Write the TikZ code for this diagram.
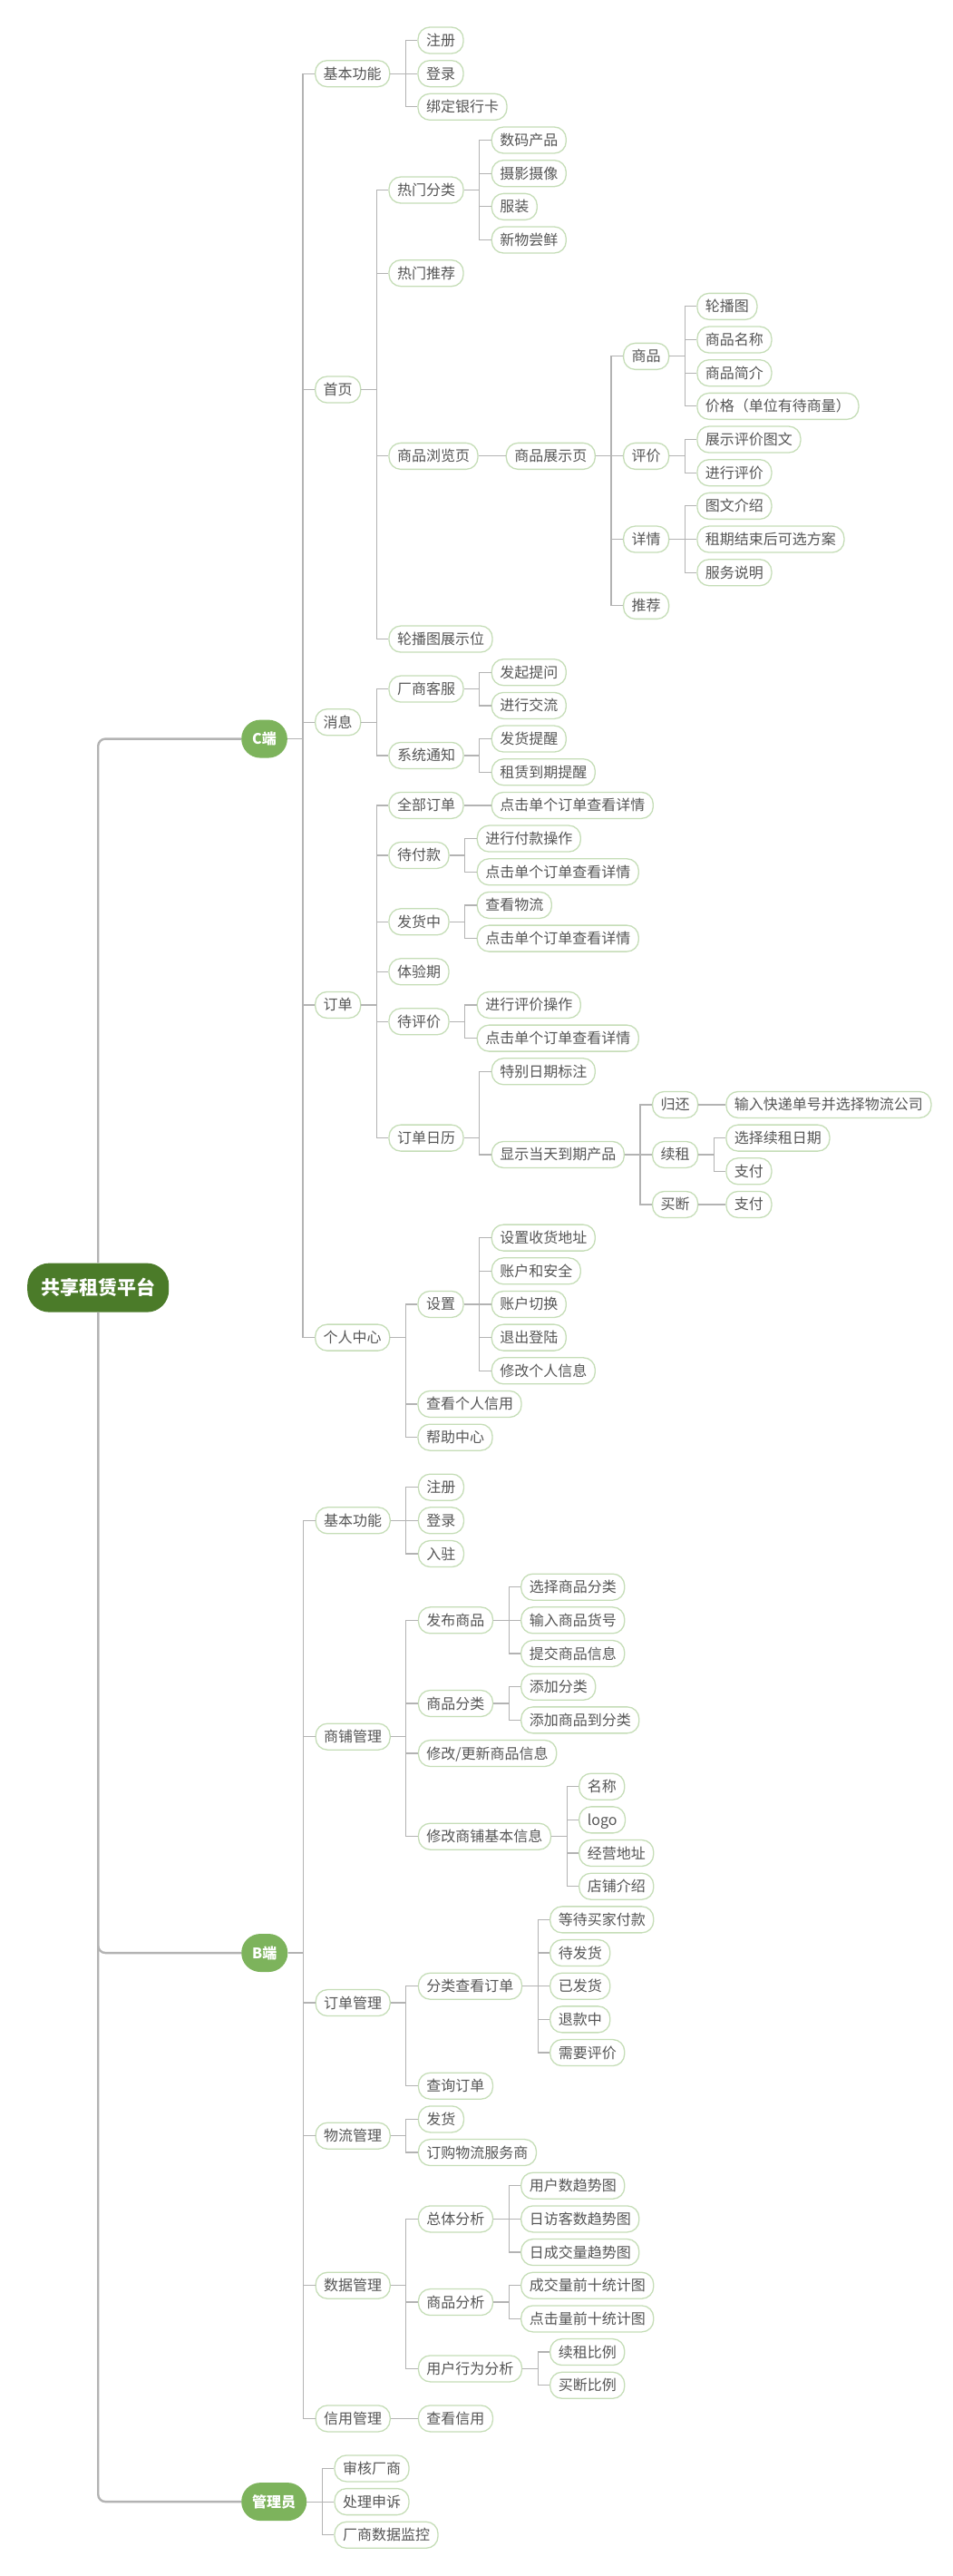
\documentclass[tikz,border=0pt]{standalone}
\usepackage{fontspec}
\newfontfamily\cjk{Noto Sans CJK SC}
\definecolor{leafline}{HTML}{C5DDB7}
\definecolor{leaftext}{HTML}{555555}
\definecolor{linkgray}{HTML}{B3B3B3}
\definecolor{hubgreen}{HTML}{7DB35C}
\definecolor{rootgreen}{HTML}{4B7B29}

\begin{document}
\begin{tikzpicture}[x=1pt, y=-36.67pt,
    leaf/.style = {draw=leafline, line width=1.3pt, fill=white, text=leaftext, rounded corners=13pt,
      minimum height=29pt, inner xsep=9pt, inner ysep=0pt, text height=14pt, text depth=2pt,
      anchor=west, font=\cjk\fontsize{16pt}{18pt}\selectfont},
    hub/.style = {fill=hubgreen, text=white, rounded corners=21pt, minimum height=42pt,
      inner xsep=12pt, text height=14pt, text depth=2pt, anchor=west,
      font=\cjk\bfseries\fontsize{16pt}{18pt}\selectfont},
    rootbox/.style = {fill=rootgreen, text=white, rounded corners=24pt, minimum height=54pt,
      inner xsep=15pt, text height=18pt, text depth=3pt, anchor=west,
      font=\cjk\bfseries\fontsize{21pt}{24pt}\selectfont},
    link/.style = {draw=linkgray, line width=1.2pt},
    fork/.style = {to path={-- ++(17pt,0) |- (\tikztotarget)}},
    trunk/.style = {draw=linkgray, line width=2.4pt, rounded corners=8pt}]
\useasboundingbox (0,-1.2136) rectangle (1050,76.234);

\node[rootbox] (root) at (30,37.5) {共享租赁平台};

% C端
\node[hub] (cend) at (266,21) {C端};
\node[leaf] (cjb) at ([xshift=30pt]cend.east |- 0,1) {基本功能};
\node[leaf] (cjbzc) at ([xshift=30pt]cjb.east |- 0,0) {注册};
\node[leaf] (cjbdl) at ([xshift=30pt]cjb.east |- 0,1) {登录};
\node[leaf] (cjbbk) at ([xshift=30pt]cjb.east |- 0,2) {绑定银行卡};
\node[leaf] (csy) at ([xshift=30pt]cend.east |- 0,10.5) {首页};
\node[leaf] (rmfl) at ([xshift=30pt]csy.east |- 0,4.5) {热门分类};
\node[leaf] (smcp) at ([xshift=30pt]rmfl.east |- 0,3) {数码产品};
\node[leaf] (sysx) at ([xshift=30pt]rmfl.east |- 0,4) {摄影摄像};
\node[leaf] (fz) at ([xshift=30pt]rmfl.east |- 0,5) {服装};
\node[leaf] (xwcx) at ([xshift=30pt]rmfl.east |- 0,6) {新物尝鲜};
\node[leaf] (rmtj) at ([xshift=30pt]csy.east |- 0,7) {热门推荐};
\node[leaf] (splly) at ([xshift=30pt]csy.east |- 0,12.5) {商品浏览页};
\node[leaf] (spzsy) at ([xshift=30pt]splly.east |- 0,12.5) {商品展示页};
\node[leaf] (zssp) at ([xshift=30pt]spzsy.east |- 0,9.5) {商品};
\node[leaf] (lbt) at ([xshift=30pt]zssp.east |- 0,8) {轮播图};
\node[leaf] (spmc) at ([xshift=30pt]zssp.east |- 0,9) {商品名称};
\node[leaf] (spjj) at ([xshift=30pt]zssp.east |- 0,10) {商品简介};
\node[leaf] (jg) at ([xshift=30pt]zssp.east |- 0,11) {价格（单位有待商量）};
\node[leaf] (zspj) at ([xshift=30pt]spzsy.east |- 0,12.5) {评价};
\node[leaf] (pjtw) at ([xshift=30pt]zspj.east |- 0,12) {展示评价图文};
\node[leaf] (jxpj) at ([xshift=30pt]zspj.east |- 0,13) {进行评价};
\node[leaf] (zsxq) at ([xshift=30pt]spzsy.east |- 0,15) {详情};
\node[leaf] (twjs) at ([xshift=30pt]zsxq.east |- 0,14) {图文介绍};
\node[leaf] (zqfa) at ([xshift=30pt]zsxq.east |- 0,15) {租期结束后可选方案};
\node[leaf] (fwsm) at ([xshift=30pt]zsxq.east |- 0,16) {服务说明};
\node[leaf] (zstj) at ([xshift=30pt]spzsy.east |- 0,17) {推荐};
\node[leaf] (lbtzs) at ([xshift=30pt]csy.east |- 0,18) {轮播图展示位};
\node[leaf] (cxx) at ([xshift=30pt]cend.east |- 0,20.5) {消息};
\node[leaf] (cskf) at ([xshift=30pt]cxx.east |- 0,19.5) {厂商客服};
\node[leaf] (fqtw) at ([xshift=30pt]cskf.east |- 0,19) {发起提问};
\node[leaf] (jxjl) at ([xshift=30pt]cskf.east |- 0,20) {进行交流};
\node[leaf] (xttz) at ([xshift=30pt]cxx.east |- 0,21.5) {系统通知};
\node[leaf] (fhtx) at ([xshift=30pt]xttz.east |- 0,21) {发货提醒};
\node[leaf] (dqtx) at ([xshift=30pt]xttz.east |- 0,22) {租赁到期提醒};
\node[leaf] (cdd) at ([xshift=30pt]cend.east |- 0,29) {订单};
\node[leaf] (qbdd) at ([xshift=30pt]cdd.east |- 0,23) {全部订单};
\node[leaf] (qbxq) at ([xshift=30pt]qbdd.east |- 0,23) {点击单个订单查看详情};
\node[leaf] (dfk) at ([xshift=30pt]cdd.east |- 0,24.5) {待付款};
\node[leaf] (fkcz) at ([xshift=30pt]dfk.east |- 0,24) {进行付款操作};
\node[leaf] (dfkxq) at ([xshift=30pt]dfk.east |- 0,25) {点击单个订单查看详情};
\node[leaf] (fhz) at ([xshift=30pt]cdd.east |- 0,26.5) {发货中};
\node[leaf] (ckwl) at ([xshift=30pt]fhz.east |- 0,26) {查看物流};
\node[leaf] (fhzxq) at ([xshift=30pt]fhz.east |- 0,27) {点击单个订单查看详情};
\node[leaf] (tyq) at ([xshift=30pt]cdd.east |- 0,28) {体验期};
\node[leaf] (dpj) at ([xshift=30pt]cdd.east |- 0,29.5) {待评价};
\node[leaf] (pjcz) at ([xshift=30pt]dpj.east |- 0,29) {进行评价操作};
\node[leaf] (dpjxq) at ([xshift=30pt]dpj.east |- 0,30) {点击单个订单查看详情};
\node[leaf] (ddrl) at ([xshift=30pt]cdd.east |- 0,33) {订单日历};
\node[leaf] (tbrq) at ([xshift=30pt]ddrl.east |- 0,31) {特别日期标注};
\node[leaf] (dqcp) at ([xshift=30pt]ddrl.east |- 0,33.5) {显示当天到期产品};
\node[leaf] (gh) at ([xshift=30pt]dqcp.east |- 0,32) {归还};
\node[leaf] (srkd) at ([xshift=30pt]gh.east |- 0,32) {输入快递单号并选择物流公司};
\node[leaf] (xz) at ([xshift=30pt]dqcp.east |- 0,33.5) {续租};
\node[leaf] (xzrq) at ([xshift=30pt]xz.east |- 0,33) {选择续租日期};
\node[leaf] (xzzf) at ([xshift=30pt]xz.east |- 0,34) {支付};
\node[leaf] (md) at ([xshift=30pt]dqcp.east |- 0,35) {买断};
\node[leaf] (mdzf) at ([xshift=30pt]md.east |- 0,35) {支付};
\node[leaf] (cgr) at ([xshift=30pt]cend.east |- 0,39) {个人中心};
\node[leaf] (sz) at ([xshift=30pt]cgr.east |- 0,38) {设置};
\node[leaf] (shdz) at ([xshift=30pt]sz.east |- 0,36) {设置收货地址};
\node[leaf] (zhaq) at ([xshift=30pt]sz.east |- 0,37) {账户和安全};
\node[leaf] (zhqh) at ([xshift=30pt]sz.east |- 0,38) {账户切换};
\node[leaf] (tcdl) at ([xshift=30pt]sz.east |- 0,39) {退出登陆};
\node[leaf] (xgxx) at ([xshift=30pt]sz.east |- 0,40) {修改个人信息};
\node[leaf] (ckgrxy) at ([xshift=30pt]cgr.east |- 0,41) {查看个人信用};
\node[leaf] (bzzx) at ([xshift=30pt]cgr.east |- 0,42) {帮助中心};

\draw[link] (cend.east) edge[fork] (cjb.west) edge[fork] (csy.west) edge[fork] (cxx.west)
  edge[fork] (cdd.west) edge[fork] (cgr.west);
\draw[link] (cjb.east) edge[fork] (cjbzc.west) edge[fork] (cjbdl.west) edge[fork] (cjbbk.west);
\draw[link] (csy.east) edge[fork] (rmfl.west) edge[fork] (rmtj.west) edge[fork] (splly.west) edge[fork] (lbtzs.west);
\draw[link] (rmfl.east) edge[fork] (smcp.west) edge[fork] (sysx.west) edge[fork] (fz.west) edge[fork] (xwcx.west);
\draw[link] (splly.east) edge[fork] (spzsy.west);
\draw[link] (spzsy.east) edge[fork] (zssp.west) edge[fork] (zspj.west) edge[fork] (zsxq.west) edge[fork] (zstj.west);
\draw[link] (zssp.east) edge[fork] (lbt.west) edge[fork] (spmc.west) edge[fork] (spjj.west) edge[fork] (jg.west);
\draw[link] (zspj.east) edge[fork] (pjtw.west) edge[fork] (jxpj.west);
\draw[link] (zsxq.east) edge[fork] (twjs.west) edge[fork] (zqfa.west) edge[fork] (fwsm.west);
\draw[link] (cxx.east) edge[fork] (cskf.west) edge[fork] (xttz.west);
\draw[link] (cskf.east) edge[fork] (fqtw.west) edge[fork] (jxjl.west);
\draw[link] (xttz.east) edge[fork] (fhtx.west) edge[fork] (dqtx.west);
\draw[link] (cdd.east) edge[fork] (qbdd.west) edge[fork] (dfk.west) edge[fork] (fhz.west)
  edge[fork] (tyq.west) edge[fork] (dpj.west) edge[fork] (ddrl.west);
\draw[link] (qbdd.east) edge[fork] (qbxq.west);
\draw[link] (dfk.east) edge[fork] (fkcz.west) edge[fork] (dfkxq.west);
\draw[link] (fhz.east) edge[fork] (ckwl.west) edge[fork] (fhzxq.west);
\draw[link] (dpj.east) edge[fork] (pjcz.west) edge[fork] (dpjxq.west);
\draw[link] (ddrl.east) edge[fork] (tbrq.west) edge[fork] (dqcp.west);
\draw[link] (dqcp.east) edge[fork] (gh.west) edge[fork] (xz.west) edge[fork] (md.west);
\draw[link] (gh.east) edge[fork] (srkd.west);
\draw[link] (xz.east) edge[fork] (xzrq.west) edge[fork] (xzzf.west);
\draw[link] (md.east) edge[fork] (mdzf.west);
\draw[link] (cgr.east) edge[fork] (sz.west) edge[fork] (ckgrxy.west) edge[fork] (bzzx.west);
\draw[link] (sz.east) edge[fork] (shdz.west) edge[fork] (zhaq.west) edge[fork] (zhqh.west)
  edge[fork] (tcdl.west) edge[fork] (xgxx.west);

% B端
\node[hub] (bend) at (266,57.5) {B端};
\node[leaf] (bjb) at ([xshift=30pt]bend.east |- 0,44.5) {基本功能};
\node[leaf] (bzc) at ([xshift=30pt]bjb.east |- 0,43.5) {注册};
\node[leaf] (bdl) at ([xshift=30pt]bjb.east |- 0,44.5) {登录};
\node[leaf] (brz) at ([xshift=30pt]bjb.east |- 0,45.5) {入驻};
\node[leaf] (spgl) at ([xshift=30pt]bend.east |- 0,51) {商铺管理};
\node[leaf] (fbsp) at ([xshift=30pt]spgl.east |- 0,47.5) {发布商品};
\node[leaf] (xzfl) at ([xshift=30pt]fbsp.east |- 0,46.5) {选择商品分类};
\node[leaf] (srhh) at ([xshift=30pt]fbsp.east |- 0,47.5) {输入商品货号};
\node[leaf] (tjxx) at ([xshift=30pt]fbsp.east |- 0,48.5) {提交商品信息};
\node[leaf] (spfl) at ([xshift=30pt]spgl.east |- 0,50) {商品分类};
\node[leaf] (tjfl) at ([xshift=30pt]spfl.east |- 0,49.5) {添加分类};
\node[leaf] (tjdfl) at ([xshift=30pt]spfl.east |- 0,50.5) {添加商品到分类};
\node[leaf] (gxxx) at ([xshift=30pt]spgl.east |- 0,51.5) {修改/更新商品信息};
\node[leaf] (jbxx) at ([xshift=30pt]spgl.east |- 0,54) {修改商铺基本信息};
\node[leaf] (mc) at ([xshift=30pt]jbxx.east |- 0,52.5) {名称};
\node[leaf] (logo) at ([xshift=30pt]jbxx.east |- 0,53.5) {logo};
\node[leaf] (jydz) at ([xshift=30pt]jbxx.east |- 0,54.5) {经营地址};
\node[leaf] (dpjs) at ([xshift=30pt]jbxx.east |- 0,55.5) {店铺介绍};
\node[leaf] (ddgl) at ([xshift=30pt]bend.east |- 0,59) {订单管理};
\node[leaf] (flck) at ([xshift=30pt]ddgl.east |- 0,58.5) {分类查看订单};
\node[leaf] (ddfk) at ([xshift=30pt]flck.east |- 0,56.5) {等待买家付款};
\node[leaf] (dfh) at ([xshift=30pt]flck.east |- 0,57.5) {待发货};
\node[leaf] (yfh) at ([xshift=30pt]flck.east |- 0,58.5) {已发货};
\node[leaf] (tkz) at ([xshift=30pt]flck.east |- 0,59.5) {退款中};
\node[leaf] (xypj) at ([xshift=30pt]flck.east |- 0,60.5) {需要评价};
\node[leaf] (cxdd) at ([xshift=30pt]ddgl.east |- 0,61.5) {查询订单};
\node[leaf] (wlgl) at ([xshift=30pt]bend.east |- 0,63) {物流管理};
\node[leaf] (bfh) at ([xshift=30pt]wlgl.east |- 0,62.5) {发货};
\node[leaf] (dgwl) at ([xshift=30pt]wlgl.east |- 0,63.5) {订购物流服务商};
\node[leaf] (sjgl) at ([xshift=30pt]bend.east |- 0,67.5) {数据管理};
\node[leaf] (ztfx) at ([xshift=30pt]sjgl.east |- 0,65.5) {总体分析};
\node[leaf] (yhqs) at ([xshift=30pt]ztfx.east |- 0,64.5) {用户数趋势图};
\node[leaf] (fkqs) at ([xshift=30pt]ztfx.east |- 0,65.5) {日访客数趋势图};
\node[leaf] (cjqs) at ([xshift=30pt]ztfx.east |- 0,66.5) {日成交量趋势图};
\node[leaf] (spfx) at ([xshift=30pt]sjgl.east |- 0,68) {商品分析};
\node[leaf] (cjtj) at ([xshift=30pt]spfx.east |- 0,67.5) {成交量前十统计图};
\node[leaf] (djtj) at ([xshift=30pt]spfx.east |- 0,68.5) {点击量前十统计图};
\node[leaf] (xwfx) at ([xshift=30pt]sjgl.east |- 0,70) {用户行为分析};
\node[leaf] (xzbl) at ([xshift=30pt]xwfx.east |- 0,69.5) {续租比例};
\node[leaf] (mdbl) at ([xshift=30pt]xwfx.east |- 0,70.5) {买断比例};
\node[leaf] (xygl) at ([xshift=30pt]bend.east |- 0,71.5) {信用管理};
\node[leaf] (ckxy) at ([xshift=30pt]xygl.east |- 0,71.5) {查看信用};

\draw[link] (bend.east) edge[fork] (bjb.west) edge[fork] (spgl.west) edge[fork] (ddgl.west)
  edge[fork] (wlgl.west) edge[fork] (sjgl.west) edge[fork] (xygl.west);
\draw[link] (bjb.east) edge[fork] (bzc.west) edge[fork] (bdl.west) edge[fork] (brz.west);
\draw[link] (spgl.east) edge[fork] (fbsp.west) edge[fork] (spfl.west) edge[fork] (gxxx.west) edge[fork] (jbxx.west);
\draw[link] (fbsp.east) edge[fork] (xzfl.west) edge[fork] (srhh.west) edge[fork] (tjxx.west);
\draw[link] (spfl.east) edge[fork] (tjfl.west) edge[fork] (tjdfl.west);
\draw[link] (jbxx.east) edge[fork] (mc.west) edge[fork] (logo.west) edge[fork] (jydz.west) edge[fork] (dpjs.west);
\draw[link] (ddgl.east) edge[fork] (flck.west) edge[fork] (cxdd.west);
\draw[link] (flck.east) edge[fork] (ddfk.west) edge[fork] (dfh.west) edge[fork] (yfh.west)
  edge[fork] (tkz.west) edge[fork] (xypj.west);
\draw[link] (wlgl.east) edge[fork] (bfh.west) edge[fork] (dgwl.west);
\draw[link] (sjgl.east) edge[fork] (ztfx.west) edge[fork] (spfx.west) edge[fork] (xwfx.west);
\draw[link] (ztfx.east) edge[fork] (yhqs.west) edge[fork] (fkqs.west) edge[fork] (cjqs.west);
\draw[link] (spfx.east) edge[fork] (cjtj.west) edge[fork] (djtj.west);
\draw[link] (xwfx.east) edge[fork] (xzbl.west) edge[fork] (mdbl.west);
\draw[link] (xygl.east) edge[fork] (ckxy.west);

% 管理员
\node[hub] (admin) at (266,74) {管理员};
\node[leaf] (shcs) at ([xshift=30pt]admin.east |- 0,73) {审核厂商};
\node[leaf] (clss) at ([xshift=30pt]admin.east |- 0,74) {处理申诉};
\node[leaf] (sjjk) at ([xshift=30pt]admin.east |- 0,75) {厂商数据监控};
\draw[link] (admin.east) edge[fork] (shcs.west) edge[fork] (clss.west) edge[fork] (sjjk.west);

\draw[trunk] (root.north) |- (cend.west);
\draw[trunk] (root.south) |- (bend.west);
\draw[trunk] (root.south) |- (admin.west);
\end{tikzpicture}
\end{document}
